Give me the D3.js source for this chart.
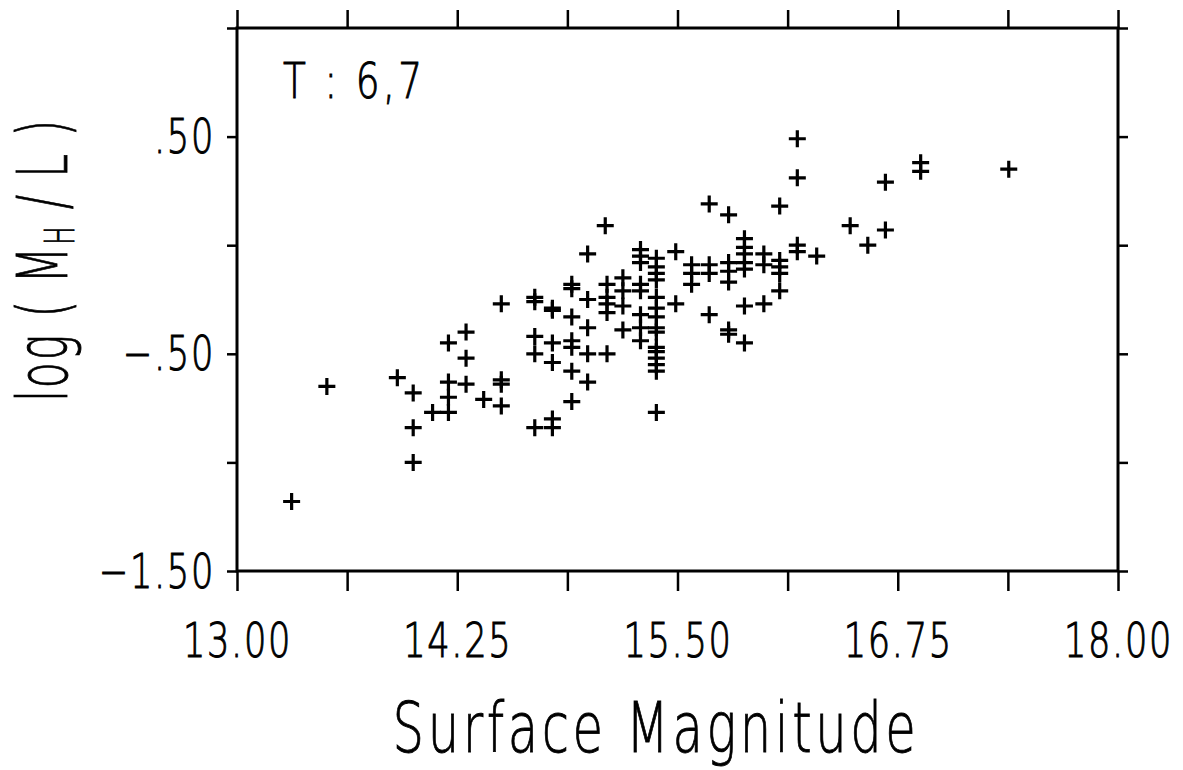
<!DOCTYPE html>
<html>
<head>
<meta charset="utf-8">
<script src="https://cdn.jsdelivr.net/npm/d3@7.9.0/dist/d3.min.js"></script>
<style>
  body { margin: 0; background: #fff; }
  text { font-family: "DejaVu Sans", sans-serif; fill: #000; stroke: #000; stroke-width: 0.9px; }
</style>
</head>
<body>
<div id="chart"></div>
<script>
// surface magnitude of each galaxy (x) and log(M_H/L) (y)
const magX = [
  13.31, 13.51, 13.91, 14.00, 14.00, 14.00, 14.11,
  14.20, 14.20, 14.20, 14.20, 14.30, 14.30, 14.30, 14.40,
  14.50, 14.50, 14.50, 14.50,
  14.69, 14.69, 14.69, 14.69, 14.69,
  14.79, 14.79, 14.79, 14.79, 14.79, 14.79,
  14.90, 14.90, 14.90, 14.90, 14.90, 14.90, 14.90,
  14.99, 14.99, 14.99, 14.99, 14.99,
  15.09, 15.10, 15.10, 15.10, 15.10, 15.10,
  15.19, 15.19, 15.19, 15.19,
  15.29, 15.29, 15.29, 15.29, 15.29, 15.29, 15.29, 15.29,
  15.38, 15.38, 15.38, 15.38, 15.38, 15.38, 15.38, 15.38,
  15.38, 15.38, 15.38, 15.38, 15.38, 15.38, 15.38,
  15.49, 15.49,
  15.58, 15.58, 15.58,
  15.68, 15.68, 15.68, 15.68,
  15.79, 15.79, 15.79, 15.79, 15.79, 15.79,
  15.88, 15.88, 15.88, 15.88, 15.88, 15.88, 15.88,
  15.99, 15.99, 15.99,
  16.08, 16.08, 16.08, 16.08, 16.08,
  16.18, 16.18, 16.18, 16.18,
  16.29, 16.48, 16.58, 16.68, 16.68, 16.88, 16.88, 17.38
];
const logML = [
  -1.18, -0.65, -0.61, -0.68, -0.84, -1.00, -0.77,
  -0.45, -0.63, -0.70, -0.77, -0.40, -0.52, -0.64, -0.71,
  -0.62, -0.64, -0.74, -0.27,
  -0.24, -0.26, -0.42, -0.50, -0.84,
  -0.29, -0.30, -0.45, -0.54, -0.80, -0.84,
  -0.18, -0.20, -0.33, -0.44, -0.47, -0.58, -0.72,
  -0.04, -0.25, -0.38, -0.50, -0.63,
  0.09, -0.18, -0.24, -0.27, -0.31, -0.50,
  -0.15, -0.21, -0.28, -0.39,
  -0.02, -0.05, -0.08, -0.18, -0.21, -0.32, -0.38, -0.44,
  -0.06, -0.10, -0.13, -0.16, -0.24, -0.29, -0.33, -0.38,
  -0.40, -0.47, -0.49, -0.52, -0.55, -0.58, -0.77,
  -0.03, -0.27,
  -0.09, -0.13, -0.18,
  0.19, -0.09, -0.13, -0.32,
  0.14, -0.08, -0.12, -0.17, -0.39, -0.41,
  0.03, -0.01, -0.04, -0.08, -0.11, -0.28, -0.45,
  -0.04, -0.09, -0.27,
  0.18, -0.07, -0.10, -0.13, -0.21,
  0.49, 0.31, 0.00, -0.03,
  -0.05, 0.09, 0.00, 0.29, 0.07, 0.38, 0.34, 0.35
];

const xTicks = [13.0, 13.625, 14.25, 14.875, 15.5, 16.125, 16.75, 17.375, 18.0];
const xTickLabels = ['13.00', '', '14.25', '', '15.50', '', '16.75', '', '18.00'];
const yTicks = [-1.5, -1.0, -0.5, 0.0, 0.5, 1.0];
const yTickLabels = ['\u22121.50', '', '\u2212.50', '', '.50', ''];

const panelLabel = 'T : 6,7';

const width = 1183;
const height = 770;
const margin = { top: 28, right: 65, bottom: 199, left: 237 };

const svg = d3.select('#chart')
  .append('svg')
  .attr('width', width)
  .attr('height', height);

const xScale = d3.scaleLinear()
  .domain([13, 18])
  .range([margin.left, width - margin.right]);

const yScale = d3.scaleLinear()
  .domain([-1.5, 1.0])
  .range([height - margin.bottom, margin.top]);

const x0 = xScale.range()[0], x1 = xScale.range()[1];
const y0 = yScale.range()[0], y1 = yScale.range()[1];

// frame
svg.append('rect')
  .attr('x', x0)
  .attr('y', y1)
  .attr('width', x1 - x0)
  .attr('height', y0 - y1)
  .attr('fill', 'none')
  .attr('stroke', '#000')
  .attr('stroke-width', 3);

// axes: ticks point outwards on all four sides
function styleAxis(g) {
  g.select('.domain').remove();
  g.selectAll('.tick line').attr('stroke', '#000').attr('stroke-width', 2.5);
}

// tall, narrow labels like the plotter font of the original
svg.append('g')
  .attr('transform', `translate(0,${y0})`)
  .call(d3.axisBottom(xScale).tickValues(xTicks).tickSize(20).tickFormat(''))
  .call(styleAxis)
  .selectAll('.tick')
  .append('text')
  .attr('transform', 'translate(0,86) scale(0.82,1.12)')
  .attr('text-anchor', 'middle')
  .style('font-size', '43px')
  .style('font-weight', 300)
  .style('letter-spacing', '2px')
  .text((d, i) => xTickLabels[i]);

svg.append('g')
  .attr('transform', `translate(0,${y1})`)
  .call(d3.axisTop(xScale).tickValues(xTicks).tickSize(18).tickFormat(''))
  .call(styleAxis);

svg.append('g')
  .attr('transform', `translate(${x0},0)`)
  .call(d3.axisLeft(yScale).tickValues(yTicks).tickSize(10).tickFormat(''))
  .call(styleAxis)
  .selectAll('.tick')
  .append('text')
  .attr('transform', 'translate(-22,16) scale(0.82,1.12)')
  .attr('text-anchor', 'end')
  .style('font-size', '43px')
  .style('font-weight', 300)
  .style('letter-spacing', '2px')
  .text((d, i) => yTickLabels[i]);

svg.append('g')
  .attr('transform', `translate(${x1},0)`)
  .call(d3.axisRight(yScale).tickValues(yTicks).tickSize(10).tickFormat(''))
  .call(styleAxis);

// plus markers
const armLen = 8.5;
const points = magX.map((m, i) => ({ x: m, y: logML[i] }));

svg.append('g')
  .selectAll('path')
  .data(points)
  .enter()
  .append('path')
  .attr('d', d => {
    const cx = xScale(d.x), cy = yScale(d.y);
    return `M${cx - armLen},${cy}H${cx + armLen}M${cx},${cy - armLen}V${cy + armLen}`;
  })
  .attr('stroke', '#000')
  .attr('stroke-width', 3.2)
  .attr('fill', 'none');

// panel label
svg.append('text')
  .attr('transform', `translate(${x0 + 46},${y1 + 70}) scale(0.85,1.15)`)
  .style('font-size', '44px')
  .style('font-weight', 300)
  .style('letter-spacing', '4px')
  .text(panelLabel);

// axis titles
svg.append('text')
  .attr('transform', 'translate(656,752) scale(0.71,1)')
  .attr('text-anchor', 'middle')
  .style('font-size', '70px')
  .style('font-weight', 300)
  .style('letter-spacing', '5px')
  .text('Surface  Magnitude');

const yTitle = svg.append('text')
  .attr('transform', 'translate(67,260) rotate(-90) scale(0.61,1)')
  .attr('text-anchor', 'middle')
  .style('font-size', '70px')
  .style('font-weight', 300)
  .style('letter-spacing', '3px');
yTitle.append('tspan').text('log ( M');
yTitle.append('tspan').attr('dy', 7).style('font-size', '40px').text('H');
yTitle.append('tspan').attr('dy', -7).text(' / L )');
</script>
</body>
</html>
